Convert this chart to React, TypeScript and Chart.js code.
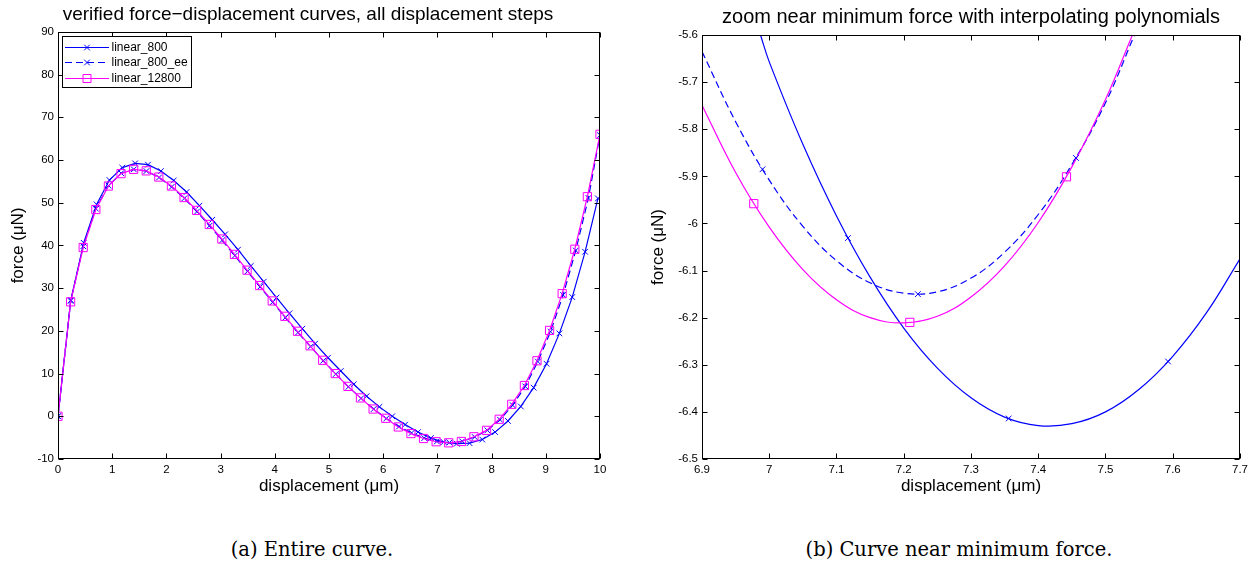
import React, { useEffect, useRef } from "react";
import { Chart, registerables } from "chart.js";

Chart.register(...registerables);

// ---------- data ----------
const seriesLabels = ["linear_800", "linear_800_ee", "linear_12800"];

const disp800 = [
  0, 0.237, 0.474, 0.712, 0.949, 1.186, 1.423, 1.66, 1.898, 2.135, 2.372, 2.609, 2.846, 3.084, 3.321,
  3.558, 3.795, 4.032, 4.27, 4.507, 4.744, 4.981, 5.218, 5.456, 5.693, 5.93, 6.167, 6.404, 6.642, 6.879,
  7.117, 7.356, 7.593, 7.828, 8.065, 8.302, 8.539, 8.776, 9.014, 9.251, 9.488, 9.725, 9.962,
];
const force800 = [
  0, 27.2, 40.6, 49.6, 55.3, 58.2, 59.2, 58.9, 57.4, 55.2, 52.5, 49.3, 46.0, 42.6, 39.0,
  35.2, 31.5, 27.8, 24.1, 20.5, 17.0, 13.7, 10.6, 7.5, 4.7, 2.2, 0.0, -1.95, -3.7, -5.1,
  -6.031, -6.414, -6.293, -5.45, -3.7, -1.1, 2.3, 6.7, 12.3, 19.4, 27.9, 38.5, 51.0,
];

const disp800ee = [
  0, 0.233, 0.466, 0.699, 0.932, 1.165, 1.398, 1.631, 1.864, 2.097, 2.33, 2.563, 2.796, 3.029, 3.262,
  3.495, 3.728, 3.961, 4.194, 4.427, 4.66, 4.893, 5.126, 5.359, 5.592, 5.825, 6.058, 6.291, 6.524, 6.757,
  6.99, 7.221, 7.456, 7.689, 7.922, 8.155, 8.388, 8.621, 8.854, 9.087, 9.32, 9.553, 9.786, 10.0,
];
const force800ee = [
  0, 27.0, 39.8, 48.6, 54.0, 56.9, 57.8, 57.4, 55.9, 53.7, 51.0, 47.9, 44.6, 41.2, 37.6,
  33.9, 30.3, 26.7, 23.1, 19.6, 16.3, 13.0, 9.9, 6.9, 4.2, 1.7, -0.5, -2.4, -3.9, -5.1,
  -5.885, -6.15, -5.861, -4.85, -3.3, -0.8, 2.6, 7.0, 12.8, 19.8, 28.4, 38.8, 51.1, 65.8,
];

const disp12800 = [
  0, 0.233, 0.465, 0.698, 0.93, 1.163, 1.395, 1.628, 1.86, 2.093, 2.326, 2.558, 2.791, 3.023, 3.256,
  3.488, 3.721, 3.953, 4.186, 4.419, 4.651, 4.884, 5.116, 5.349, 5.581, 5.814, 6.047, 6.279, 6.512, 6.744,
  6.977, 7.209, 7.442, 7.674, 7.907, 8.14, 8.372, 8.605, 8.837, 9.07, 9.302, 9.535, 9.767, 10.0,
];
const force12800 = [
  0, 26.8, 39.5, 48.4, 53.9, 56.8, 57.8, 57.45, 56.0, 53.9, 51.2, 48.2, 44.9, 41.5, 37.9,
  34.2, 30.6, 27.0, 23.4, 19.9, 16.5, 13.1, 10.0, 7.0, 4.3, 1.7, -0.47, -2.5, -4.05, -5.2,
  -5.958, -6.21, -5.901, -4.8, -3.3, -0.7, 2.8, 7.2, 13.0, 20.1, 28.7, 39.1, 51.4, 66.0,
];

// interpolating-polynomial curves in the zoomed panel
const zoomX800 = [6.987, 7.0, 7.05, 7.1, 7.15, 7.2, 7.25, 7.3, 7.35, 7.4, 7.45, 7.5, 7.55, 7.6, 7.65, 7.7];
const zoomY800 = [-5.6, -5.657, -5.832, -5.984, -6.114, -6.222, -6.307, -6.37, -6.411, -6.429, -6.425, -6.4, -6.352, -6.282, -6.19, -6.075];
const zoomXee = [6.9, 6.95, 7.0, 7.05, 7.1, 7.15, 7.2, 7.25, 7.3, 7.35, 7.4, 7.45, 7.5, 7.543];
const zoomYee = [-5.635, -5.784, -5.908, -6.006, -6.079, -6.126, -6.148, -6.145, -6.116, -6.061, -5.981, -5.875, -5.744, -5.6];
const zoomX12800 = [6.9, 6.95, 7.0, 7.05, 7.1, 7.15, 7.2, 7.25, 7.3, 7.35, 7.4, 7.45, 7.5, 7.54];
const zoomY12800 = [-5.749, -5.892, -6.008, -6.098, -6.162, -6.2, -6.211, -6.197, -6.156, -6.09, -5.998, -5.88, -5.737, -5.6];

// tick values
const xTicksA = [0, 1, 2, 3, 4, 5, 6, 7, 8, 9, 10];
const yTicksA = [-10, 0, 10, 20, 30, 40, 50, 60, 70, 80, 90];
const xTicksB = [6.9, 7.0, 7.1, 7.2, 7.3, 7.4, 7.5, 7.6, 7.7];
const yTicksB = [-6.5, -6.4, -6.3, -6.2, -6.1, -6.0, -5.9, -5.8, -5.7, -5.6];

const titleA = "verified force\u2212displacement curves, all displacement steps";
const titleB = "zoom near minimum force with interpolating polynomials";
const xLabel = "displacement (\u03bcm)";
const yLabel = "force (\u03bcN)";
const captionA = "(a) Entire curve.";
const captionB = "(b) Curve near minimum force.";

// ---------- styles ----------
const BLUE = "#0000ff";
const MAG = "#ff00ff";
const FONT = "'Liberation Sans', Arial, Helvetica, sans-serif";
const LINE_W = 1.2;

const toXY = (xs: number[], ys: number[]) => xs.map((x, i) => ({ x, y: ys[i] }));
const fmt = (v: number) => String(Number(v.toFixed(2)));

const framePlugin = {
  id: "matlabFrame",
  afterDatasetsDraw(chart: any) {
    const { ctx, chartArea } = chart;
    const { left, right, top, bottom } = chartArea;
    const xs = chart.scales.x;
    const ys = chart.scales.y;
    const L = Math.round(left) + 0.5;
    const R = Math.round(right) - 0.5;
    const T = Math.round(top) + 0.5;
    const B = Math.round(bottom) - 0.5;
    ctx.save();
    ctx.strokeStyle = "#000";
    ctx.lineWidth = 1;
    ctx.setLineDash([]);
    ctx.strokeRect(L, T, R - L, B - T);
    const len = 5;
    ctx.beginPath();
    xs.ticks.forEach((t: any) => {
      const px = Math.round(xs.getPixelForValue(t.value)) + 0.5;
      ctx.moveTo(px, B);
      ctx.lineTo(px, B - len);
      ctx.moveTo(px, T);
      ctx.lineTo(px, T + len);
    });
    ys.ticks.forEach((t: any) => {
      const py = Math.round(ys.getPixelForValue(t.value)) + 0.5;
      ctx.moveTo(L, py);
      ctx.lineTo(L + len, py);
      ctx.moveTo(R, py);
      ctx.lineTo(R - len, py);
    });
    ctx.stroke();
    ctx.restore();
  },
};

const drawMarker = (ctx: CanvasRenderingContext2D, style: string, x: number, y: number, color: string) => {
  ctx.save();
  ctx.setLineDash([]);
  ctx.strokeStyle = color;
  ctx.lineWidth = 1;
  ctx.beginPath();
  if (style === "rect") {
    ctx.rect(x - 4, y - 4, 8, 8);
  } else {
    const d = 2.8;
    ctx.moveTo(x - d, y - d);
    ctx.lineTo(x + d, y + d);
    ctx.moveTo(x - d, y + d);
    ctx.lineTo(x + d, y - d);
  }
  ctx.stroke();
  ctx.restore();
};

const legendPlugin = {
  id: "boxLegend",
  afterDraw(chart: any) {
    const { ctx, chartArea } = chart;
    const x0 = Math.round(chartArea.left) + 4.5;
    const y0 = Math.round(chartArea.top) + 4.5;
    const w = 129;
    const h = 51;
    ctx.save();
    ctx.fillStyle = "#fff";
    ctx.fillRect(x0, y0, w, h);
    ctx.strokeStyle = "#000";
    ctx.lineWidth = 1;
    ctx.strokeRect(x0, y0, w, h);
    chart.data.datasets.forEach((ds: any, i: number) => {
      const y = Math.round(y0 + 10 + i * 15.8) + 0.5;
      ctx.save();
      ctx.strokeStyle = ds.borderColor;
      ctx.lineWidth = LINE_W;
      ctx.setLineDash(ds.borderDash || []);
      ctx.beginPath();
      ctx.moveTo(x0 + 2.5, y);
      ctx.lineTo(x0 + 46.5, y);
      ctx.stroke();
      ctx.restore();
      drawMarker(ctx, ds.pointStyle, x0 + 24.5, y, ds.borderColor);
      ctx.fillStyle = "#000";
      ctx.font = `12px ${FONT}`;
      ctx.textBaseline = "middle";
      ctx.textAlign = "left";
      ctx.fillText(ds.label, x0 + 49, y);
    });
    ctx.restore();
  },
};

const seriesStyle = (i: number) => {
  if (i === 0) return { color: BLUE, pointStyle: "crossRot", radius: 4, dash: [] as number[] };
  if (i === 1) return { color: BLUE, pointStyle: "crossRot", radius: 4, dash: [7, 4] };
  return { color: MAG, pointStyle: "rect", radius: 5.8, dash: [] as number[] };
};

const axisCommon = (
  ticks: number[],
  titleText: string,
  horizontal: boolean,
  fixedSize: number,
  titlePadTop = 8
) => ({
  type: "linear" as const,
  min: ticks[0],
  max: ticks[ticks.length - 1],
  grid: { display: false, drawTicks: false },
  border: { display: false },
  afterBuildTicks: (scale: any) => {
    scale.ticks = ticks.map((v) => ({ value: v }));
  },
  afterFit: (scale: any) => {
    if (horizontal) scale.height = fixedSize;
    else scale.width = fixedSize;
  },
  ticks: {
    autoSkip: false,
    maxRotation: 0,
    color: "#000",
    padding: 4,
    font: { family: FONT, size: 11.5 },
    callback: (v: any) => fmt(Number(v)),
  },
  title: {
    display: true,
    text: titleText,
    color: "#000",
    font: { family: FONT, size: 17 },
    padding: horizontal ? { top: 0, bottom: 2 } : { top: titlePadTop, bottom: 0 },
  },
});

function LeftChart() {
  const ref = useRef<HTMLCanvasElement | null>(null);
  useEffect(() => {
    if (!ref.current) return;
    const sets = [
      [disp800, force800],
      [disp800ee, force800ee],
      [disp12800, force12800],
    ];
    const datasets = sets.map(([xs, ys], i) => {
      const s = seriesStyle(i);
      return {
        label: seriesLabels[i],
        data: toXY(xs, ys),
        showLine: true,
        tension: 0,
        borderColor: s.color,
        backgroundColor: s.color,
        borderWidth: LINE_W,
        borderDash: s.dash,
        pointStyle: s.pointStyle,
        pointRadius: s.radius,
        pointBorderColor: s.color,
        pointBackgroundColor: "rgba(0,0,0,0)",
        pointBorderWidth: 1,
        order: 3 - i,
      };
    });
    const chart = new Chart(ref.current, {
      type: "scatter",
      data: { datasets } as any,
      options: {
        responsive: false,
        animation: false,
        devicePixelRatio: 1,
        layout: { padding: { left: 16, right: 20, top: 0, bottom: 0 } },
        plugins: {
          legend: { display: false },
          tooltip: { enabled: false },
          title: {
            display: true,
            text: titleA,
            color: "#000",
            font: { family: FONT, size: 19, weight: "normal" },
            padding: { top: 3, bottom: 6 },
          },
        },
        scales: {
          x: axisCommon(xTicksA, xLabel, true, 40),
          y: axisCommon(yTicksA, yLabel, false, 42, -8),
        },
      } as any,
      plugins: [framePlugin, legendPlugin],
    });
    return () => chart.destroy();
  }, []);
  return <canvas ref={ref} width={620} height={499} style={{ position: "absolute", left: 0, top: 0 }} />;
}

function RightChart() {
  const ref = useRef<HTMLCanvasElement | null>(null);
  useEffect(() => {
    if (!ref.current) return;
    const curves = [
      [zoomX800, zoomY800],
      [zoomXee, zoomYee],
      [zoomX12800, zoomY12800],
    ];
    const pts = [
      [disp800, force800],
      [disp800ee, force800ee],
      [disp12800, force12800],
    ];
    const curveSets = curves.map(([xs, ys], i) => {
      const s = seriesStyle(i);
      return {
        label: seriesLabels[i] + " (interpolant)",
        data: toXY(xs, ys),
        showLine: true,
        tension: 0.4,
        borderColor: s.color,
        borderWidth: LINE_W,
        borderDash: s.dash,
        pointRadius: 0,
        clip: 0,
        order: 6 - i,
      };
    });
    const pointSets = pts.map(([xs, ys], i) => {
      const s = seriesStyle(i);
      return {
        label: seriesLabels[i],
        data: toXY(xs, ys),
        showLine: false,
        pointStyle: s.pointStyle,
        pointRadius: s.radius,
        pointBorderColor: s.color,
        pointBackgroundColor: "rgba(0,0,0,0)",
        pointBorderWidth: 1,
        clip: 0,
        order: 3 - i,
      };
    });
    const chart = new Chart(ref.current, {
      type: "scatter",
      data: { datasets: [...curveSets, ...pointSets] } as any,
      options: {
        responsive: false,
        animation: false,
        devicePixelRatio: 1,
        layout: { padding: { left: 0, right: 18, top: 0, bottom: 0 } },
        plugins: {
          legend: { display: false },
          tooltip: { enabled: false },
          title: {
            display: true,
            fullSize: false,
            text: titleB,
            color: "#000",
            font: { family: FONT, size: 20, weight: "normal" },
            padding: { top: 5, bottom: 6 },
          },
        },
        scales: {
          x: axisCommon(xTicksB, xLabel, true, 40),
          y: axisCommon(yTicksB, yLabel, false, 62),
        },
      } as any,
      plugins: [framePlugin],
    });
    return () => chart.destroy();
  }, []);
  return <canvas ref={ref} width={618} height={499} style={{ position: "absolute", left: 640, top: 0 }} />;
}

const captionStyle = (cx: number): React.CSSProperties => ({
  position: "absolute",
  left: cx,
  top: 539,
  transform: "translateX(-50%)",
  whiteSpace: "nowrap",
  fontFamily: "'DejaVu Serif', 'Liberation Serif', serif",
  fontSize: 19.5,
  lineHeight: "22px",
  color: "#000",
});

export default function App() {
  return (
    <div style={{ position: "absolute", left: 0, top: 0, width: 1258, height: 567, background: "#fff", overflow: "hidden" }}>
      <LeftChart />
      <RightChart />
      <div style={captionStyle(312)}>{captionA}</div>
      <div style={captionStyle(959)}>{captionB}</div>
    </div>
  );
}
